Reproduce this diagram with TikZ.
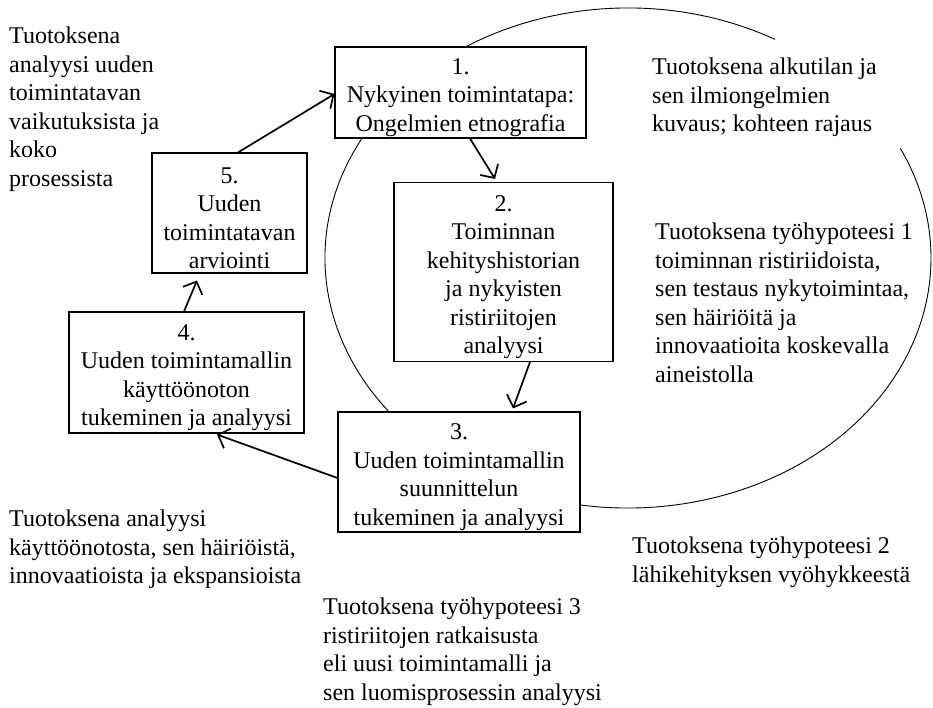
\documentclass[tikz,border=0pt]{standalone}
\usepackage{fontspec}
\setmainfont{Liberation Serif}
\usetikzlibrary{arrows.meta}
\newcommand{\stepno}[1]{\rule{0pt}{26pt}#1.}

\begin{document}
\begin{tikzpicture}[
      x=1pt, y=1pt,
      phase/.style={
          draw,
          fill=white,
          line width=1.1pt,
          align=center,
          inner sep=0pt
        },
      note/.style={
          align=left,
          anchor=north west,
          inner sep=0pt
        },
      flow/.style={
          ->,
          line width=1.7pt
        },
      >={Straight Barb[length=10pt,width=21pt]},
      font=\fontsize{24}{28.5}\selectfont
    ]
    \useasboundingbox (0,0) rectangle (933,-708);
    % the cycle, open at the upper right
    \draw[line width=0.9pt] (628,-258) ++(61:303 and 250)
      arc[start angle=61, end angle=386, x radius=303, y radius=250];
    % phases
    \node[phase, minimum width=251, minimum height=91] (b1) at (460.5,-92.5)
      {\stepno{1}\\Nykyinen toimintatapa:\\Ongelmien etnografia};
    \node[phase, minimum width=219, minimum height=179] (b2) at (503.5,-272)
      {\stepno{2}\\Toiminnan\\kehityshistorian\\ja nykyisten\\ristiriitojen\\analyysi};
    \node[phase, minimum width=242, minimum height=120] (b3) at (459,-472)
      {\stepno{3}\\Uuden toimintamallin\\suunnittelun\\tukeminen ja analyysi};
    \node[phase, minimum width=235, minimum height=121] (b4) at (186.5,-372.5)
      {\stepno{4}\\Uuden toimintamallin\\käyttöönoton\\tukeminen ja analyysi};
    \node[phase, minimum width=155, minimum height=120] (b5) at (229.5,-213)
      {\stepno{5}\\Uuden\\toimintatavan\\arviointi};
    % outputs
    \node[note] (o5) at (9,-27) {Tuotoksena\\analyysi uuden\\toimintatavan\\vaikutuksista ja\\koko\\prosessista};
    \node[note] (o1) at (652,-58) {Tuotoksena alkutilan ja\\sen ilmiongelmien\\kuvaus; kohteen rajaus};
    \node[note] (o2) at (655,-223) {Tuotoksena työhypoteesi 1\\toiminnan ristiriidoista,\\sen testaus nykytoimintaa,\\sen häiriöitä ja\\innovaatioita koskevalla\\aineistolla};
    \node[note] (o3) at (632,-537) {Tuotoksena työhypoteesi 2\\lähikehityksen vyöhykkeestä};
    \node[note] (o4) at (323,-598) {Tuotoksena työhypoteesi 3\\ristiriitojen ratkaisusta\\eli uusi toimintamalli ja\\sen luomisprosessin analyysi};
    \node[note] (o6) at (9,-510) {Tuotoksena analyysi\\käyttöönotosta, sen häiriöistä,\\innovaatioista ja ekspansioista};
    % steps
    \draw[flow] ([xshift=8.5]b5.north) -- ([yshift=-1.5]b1.west);
    \draw[flow] ([xshift=9.5]b1.south) -- ([xshift=-8.5,yshift=3]b2.north);
    \draw[flow] ([xshift=26.5]b2.south) -- ([xshift=54,yshift=3]b3.north);
    \draw[flow] ([yshift=-6]b3.west) -- ([xshift=30.5,yshift=-1]b4.south);
    \draw[flow] ([xshift=-2.5]b4.north) -- ([xshift=-32.5,yshift=-7]b5.south);
  \end{tikzpicture}
\end{document}
